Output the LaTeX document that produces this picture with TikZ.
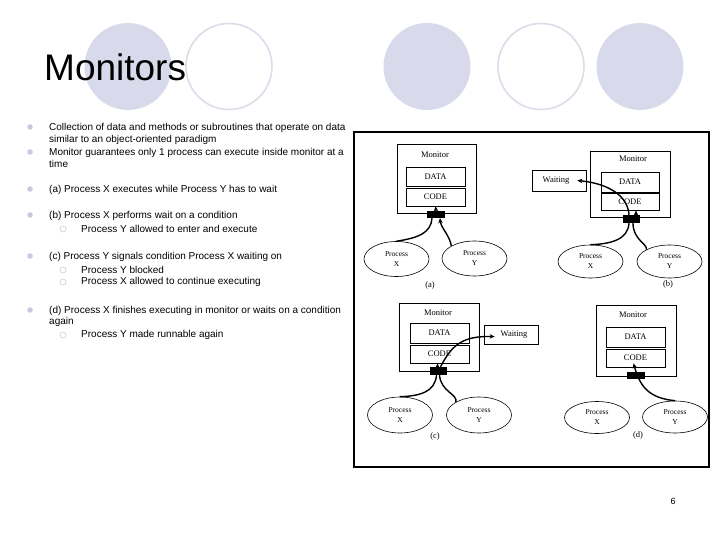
\documentclass[tikz,border=0pt]{standalone}
\usepackage{fontspec}
\setmainfont{Liberation Serif}
\newfontfamily\arial{Liberation Sans}
\usetikzlibrary{shapes.geometric,arrows.meta,calc}
\definecolor{lav}{HTML}{D9D9EC}
\definecolor{lavline}{HTML}{DCDCEA}
\definecolor{bul}{HTML}{C8C8E0}
\definecolor{subbul}{HTML}{CCCCCC}
\tikzset{
  deco/.style={draw=lavline,line width=1.6pt},
  decofill/.style={fill=lav},
  txt/.style={anchor=west,inner sep=0pt,font=\arial\fontsize{10}{11}\selectfont},
  bullet/.style={circle,fill=bul,inner sep=0pt,minimum size=5.5pt},
  subbullet/.style={circle,draw=subbul,line width=0.6pt,inner sep=0pt,minimum size=6pt},
  monbox/.style={draw,line width=0.8pt,inner sep=0pt},
  inbox/.style={draw,line width=0.8pt,inner sep=0pt,minimum width=59pt,font=\fontsize{8.5}{9}\selectfont},
  lbl/.style={inner sep=0pt,font=\fontsize{8.5}{9}\selectfont},
  gate/.style={fill=black,inner sep=0pt,minimum width=18pt,minimum height=7pt},
  proc/.style={ellipse,draw,line width=0.6pt,inner sep=0pt,minimum width=65pt,minimum height=35pt,align=center,font=\fontsize{7.5}{10}\selectfont},
  conn/.style={line width=1.4pt},
  arr/.style={line width=1.4pt,-{Stealth[length=5pt,width=4.5pt]}},
}
\begin{document}
\begin{tikzpicture}[x=1pt,y=-1pt]
\useasboundingbox (0,0) rectangle (720,540);
% decorative circles
\node[decofill,circle,minimum size=87pt,inner sep=0pt] (c1) at (128,66.5) {};
\node[deco,circle,minimum size=86pt,inner sep=0pt] (c2) at (229,66.5) {};
\node[decofill,circle,minimum size=87pt,inner sep=0pt] (c3) at (427,66.5) {};
\node[deco,circle,minimum size=86pt,inner sep=0pt] (c4) at (541,66.5) {};
\node[decofill,circle,minimum size=87pt,inner sep=0pt] (c5) at (640,66.5) {};
\node[anchor=west,inner sep=0pt,font=\arial\fontsize{37}{40}\selectfont] (title) at (44,67) {Monitors};

% bullets
\node[bullet] (b1) at (30,127) {};
\node[txt] (t1a) at (49,128) {Collection of data and methods or subroutines that operate on data};
\node[txt] (t1b) at (49,140) {similar to an object-oriented paradigm};
\node[bullet] (b2) at (30,152) {};
\node[txt] (t2a) at (49,153) {Monitor guarantees only 1 process can execute inside monitor at a};
\node[txt] (t2b) at (49,164) {time};
\node[bullet] (b3) at (30,189) {};
\node[txt] (t3) at (49,190) {(a) Process X executes while Process Y has to wait};
\node[bullet] (b4) at (30,215) {};
\node[txt] (t4) at (49,216) {(b) Process X performs wait on a condition};
\node[subbullet] (s4) at (63,229) {};
\node[txt] (t4a) at (81,229) {Process Y allowed to enter and execute};
\node[bullet] (b5) at (30,256) {};
\node[txt] (t5) at (49,257) {(c) Process Y signals condition Process X waiting on};
\node[subbullet] (s5a) at (63,270) {};
\node[txt] (t5a) at (81,270) {Process Y blocked};
\node[subbullet] (s5b) at (63,282) {};
\node[txt] (t5b) at (81,282) {Process X allowed to continue executing};
\node[bullet] (b6) at (30,310) {};
\node[txt] (t6a) at (49,311) {(d) Process X finishes executing in monitor or waits on a condition};
\node[txt] (t6b) at (49,322) {again};
\node[subbullet] (s6) at (63,335) {};
\node[txt] (t6c) at (81,335) {Process Y made runnable again};

% frame
\draw[line width=1.2pt] (354,132) rectangle (709,467);

% ---------- (a)
\node[monbox,minimum width=79pt,minimum height=69pt] (am) at (436.5,178.5) {};
\node[lbl] (aml) at (435,155) {Monitor};
\node[inbox,minimum height=19pt] (adata) at (435.5,176.5) {DATA};
\node[inbox,minimum height=18pt] (acode) at (435.5,197) {CODE};
\node[gate] (ag) at (436,214.5) {};
\node[proc] (ax) at (396.5,259) {Process\\X};
\node[proc] (ay) at (474.5,258.5) {Process\\Y};
\node[lbl] (alab) at (430,285) {(a)};
\draw[conn] (ax.north) .. controls (418,238) and (431,233) .. ($(ag.south)+(-4,0)$);
\draw[arr] (ay.north west) .. controls (450,236) and (441,228) .. ($(ag.south)+(4,0)$);
\draw[arr] (ag.north) -- (acode.south);

% ---------- (b)
\node[monbox,minimum width=80pt,minimum height=66pt] (bm) at (630,184) {};
\node[lbl] (bml) at (633,159) {Monitor};
\node[inbox,minimum width=58pt,minimum height=20pt] (bdata) at (630,182) {DATA};
\node[inbox,minimum width=58pt,minimum height=17pt] (bcode) at (630,201.5) {CODE};
\node[gate,minimum width=17pt,minimum height=8pt] (bg) at (631,219) {};
\node[draw,line width=0.8pt,minimum width=54pt,minimum height=21pt,inner sep=0pt] (bw) at (559,180.5) {};
\node[lbl] (bwl) at (556,180.5) {Waiting};
\node[proc,minimum height=33pt] (bx) at (590.5,261.5) {Process\\X};
\node[proc,minimum height=33pt] (by) at (669.5,261.5) {Process\\Y};
\node[lbl] (blab) at (668,284) {(b)};
\coordinate (bwend) at ($(bw.east)+(-9,0)$);
\draw[arr] ($(bg.north)+(-2,0)$) .. controls (628,198) and (612,184) .. (bwend);
\draw[arr] ($(bg.north)+(5,0)$) -- ($(bcode.south)+(6,0)$);
\draw[conn] ($(bg.south)+(-2,0)$) .. controls (628,240) and (610,244) .. (bx.north);
\draw[conn] ($(bg.south)+(2,0)$) .. controls (633,240) and (648,244) .. (by.north west);

% ---------- (c)
\node[monbox,minimum width=80pt,minimum height=68pt] (cm) at (439,337) {};
\node[lbl] (cml) at (438,313) {Monitor};
\node[inbox,minimum height=20pt] (cdata) at (439.5,333) {DATA};
\node[inbox,minimum height=18pt] (ccode) at (439.5,354) {CODE};
\node[gate,minimum width=17pt,minimum height=8pt] (cg) at (438.5,371) {};
\node[draw,line width=0.8pt,minimum width=54pt,minimum height=19pt,inner sep=0pt] (cw) at (511,334.5) {};
\node[lbl] (cwl) at (514,334.5) {Waiting};
\node[proc,minimum height=36pt] (cx) at (400,415) {Process\\X};
\node[proc,minimum height=36pt] (cy) at (479,415) {Process\\Y};
\node[lbl] (clab) at (435,436) {(c)};
\coordinate (cwend) at ($(cw.west)+(11,2)$);
\draw[arr] ($(cg.north)+(2,0)$) .. controls (452,345) and (462,336) .. (cwend);
\draw[arr] ($(cg.north)+(-1,0)$) -- ($(ccode.south)+(-2,0)$);
\draw[conn] ($(cg.south)+(-2,0)$) .. controls (435,392) and (420,396) .. (cx.north);
\draw[conn] ($(cg.south)+(1,0)$) .. controls (441,392) and (458,394) .. (cy.north west);

% ---------- (d)
\node[monbox,minimum width=80pt,minimum height=71pt] (dm) at (636,340.5) {};
\node[lbl] (dml) at (633,315) {Monitor};
\node[inbox,minimum height=20pt] (ddata) at (635.5,337) {DATA};
\node[inbox,minimum height=18pt] (dcode) at (635.5,358) {CODE};
\node[gate] (dg) at (636,375.5) {};
\node[proc,minimum height=32pt] (dx) at (597,417.5) {Process\\X};
\node[proc,minimum height=32pt] (dy) at (675,417) {Process\\Y};
\node[lbl] (dlab) at (638,435) {(d)};
\draw[arr] (dy.north) .. controls (648,398) and (640,386) .. ($(dcode.south)+(-2,-4)$);

% page number
\node[inner sep=0pt,font=\arial\fontsize{9}{10}\selectfont] (pnum) at (673,501) {6};
\end{tikzpicture}
\end{document}
